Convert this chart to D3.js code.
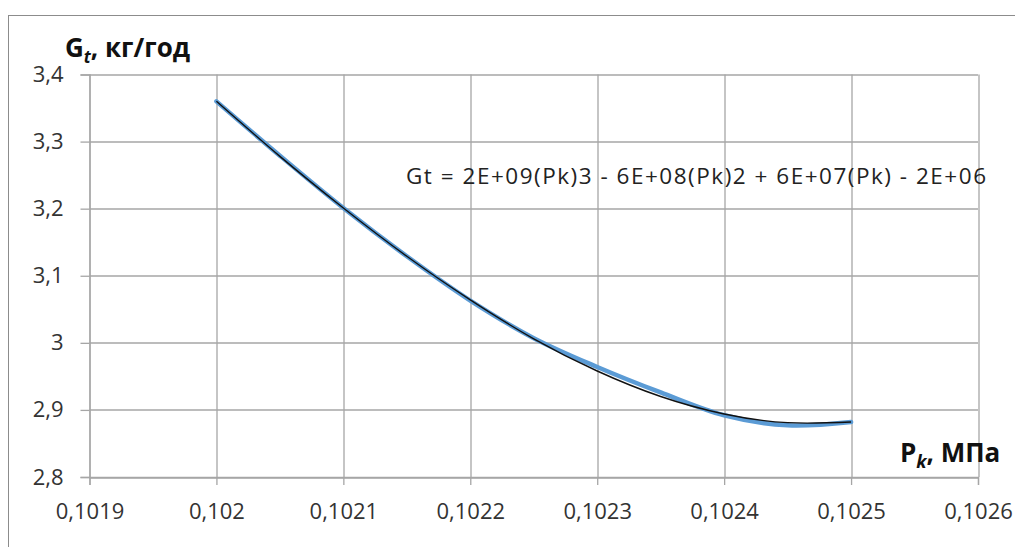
<!DOCTYPE html>
<html>
<head>
<meta charset="utf-8">
<script src="https://cdn.jsdelivr.net/npm/d3@7"></script>
<style>
  body { margin: 0; background: #fff; }
  svg { display: block; font-family: "Open Sans", sans-serif; }
</style>
</head>
<body>
<div id="chart"></div>
<script>
// Data
var pressure = [0.1020, 0.10205, 0.1021, 0.10215, 0.1022, 0.10225, 0.1023, 0.10235, 0.1024, 0.10245, 0.1025];
var gtValues = [3.360, 3.279, 3.201, 3.129, 3.063, 3.007, 2.964, 2.926, 2.892, 2.877, 2.882];
var trendValues = [3.360, 3.278, 3.201, 3.129, 3.064, 3.006, 2.958, 2.920, 2.894, 2.881, 2.882];
var xTicks = [0.1019, 0.1020, 0.1021, 0.1022, 0.1023, 0.1024, 0.1025, 0.1026];
var yTicks = [2.8, 2.9, 3.0, 3.1, 3.2, 3.3, 3.4];
var equation = "Gt = 2E+09(Pk)3 - 6E+08(Pk)2 + 6E+07(Pk) - 2E+06";

var width = 1015, height = 547;
var margin = { top: 74.5, right: 37, bottom: 70, left: 89.5 };
var plotW = width - margin.left - margin.right;
var plotH = height - margin.top - margin.bottom;

var svg = d3.select("#chart")
    .append("svg")
    .attr("width", width)
    .attr("height", height);

// outer chart frame
svg.append("rect")
    .attr("x", 8.5).attr("y", 15.5)
    .attr("width", width).attr("height", height)
    .attr("fill", "none")
    .attr("stroke", "#8c8c8c")
    .attr("stroke-width", 1);

var chartGroup = svg.append("g")
    .attr("transform", `translate(${margin.left}, ${margin.top})`);

var xScale = d3.scaleLinear().domain([0.1019, 0.1026]).range([0, plotW]);
var yScale = d3.scaleLinear().domain([2.8, 3.4]).range([plotH, 0]);

var fmtX = d => d3.format(".4~f")(d).replace(".", ",");
var fmtY = d => d3.format("~g")(d).replace(".", ",");

// gridlines
chartGroup.append("g").selectAll("line.h")
    .data(yTicks).join("line")
    .attr("x1", 0).attr("x2", plotW)
    .attr("y1", d => Math.round(yScale(d)) + 0.5)
    .attr("y2", d => Math.round(yScale(d)) + 0.5)
    .attr("stroke", "#a6a6a6").attr("stroke-width", 1.3);

chartGroup.append("g").selectAll("line.v")
    .data(xTicks).join("line")
    .attr("y1", 0).attr("y2", plotH)
    .attr("x1", d => Math.round(xScale(d)) + 0.5)
    .attr("x2", d => Math.round(xScale(d)) + 0.5)
    .attr("stroke", "#a6a6a6").attr("stroke-width", 1.3);

// axes
var bottomAxis = d3.axisBottom(xScale).tickValues(xTicks).tickFormat(fmtX)
    .tickSize(8).tickPadding(18);
var leftAxis = d3.axisLeft(yScale).tickValues(yTicks).tickFormat(fmtY)
    .tickSize(9).tickPadding(17);

var xAxis = chartGroup.append("g")
    .attr("transform", `translate(0, ${plotH})`)
    .call(bottomAxis);
var yAxis = chartGroup.append("g")
    .call(leftAxis);

[xAxis, yAxis].forEach(function(ax) {
    ax.select(".domain").attr("stroke", "#a6a6a6").attr("stroke-width", 1.3);
    ax.selectAll(".tick line").attr("stroke", "#a6a6a6").attr("stroke-width", 1.3);
    ax.selectAll(".tick text")
        .attr("fill", "#333")
        .style("font-family", "'Open Sans', sans-serif")
        .style("font-size", "22px");
});

// data series (blue) and trendline (black)
var blueLine = d3.line()
    .x((d, i) => xScale(pressure[i]))
    .y(d => yScale(d))
    .curve(d3.curveCatmullRom.alpha(0.5));

chartGroup.append("path")
    .datum(gtValues)
    .attr("d", blueLine)
    .attr("fill", "none")
    .attr("stroke", "#5b9bd5")
    .attr("stroke-width", 4.5)
    .attr("stroke-linecap", "round");

var trendLine = d3.line()
    .x((d, i) => xScale(pressure[i]))
    .y(d => yScale(d))
    .curve(d3.curveNatural);

chartGroup.append("path")
    .datum(trendValues)
    .attr("d", trendLine)
    .attr("fill", "none")
    .attr("stroke", "#111")
    .attr("stroke-width", 1.4);

// equation label
svg.append("text")
    .attr("x", 406).attr("y", 184)
    .attr("fill", "#222")
    .attr("textLength", 580)
    .attr("lengthAdjust", "spacing")
    .style("font-size", "22.5px")
    .text(equation);

// y axis title
var yTitle = svg.append("text")
    .attr("x", 65).attr("y", 57)
    .attr("fill", "#111")
    .style("font-size", "26px")
    .style("font-weight", "bold");
yTitle.append("tspan").text("G");
yTitle.append("tspan").attr("dy", 6).style("font-size", "17px").style("font-style", "italic").text("t");
yTitle.append("tspan").attr("dy", -6).text(", кг/год");

// x axis title
var xTitle = svg.append("text")
    .attr("x", 900).attr("y", 462)
    .attr("fill", "#111")
    .style("font-size", "26px")
    .style("font-weight", "bold");
xTitle.append("tspan").text("P");
xTitle.append("tspan").attr("dy", 6).style("font-size", "18px").style("font-style", "italic").text("k");
xTitle.append("tspan").attr("dy", -6).text(", МПа");
</script>
</body>
</html>
